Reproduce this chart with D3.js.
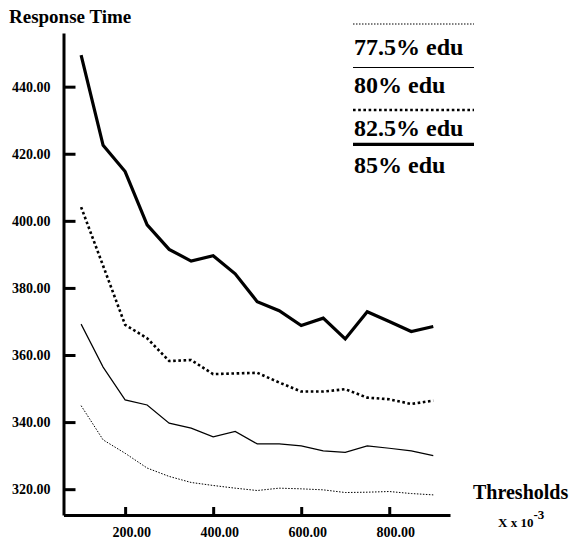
<!DOCTYPE html>
<html>
<head>
<meta charset="utf-8">
<script src="https://cdn.jsdelivr.net/npm/d3@7"></script>
<style>
  html, body { margin: 0; background: #fff; overflow: hidden; }
  svg { display: block; }
  text { font-family: "Liberation Serif", "Times New Roman", serif; font-weight: bold; fill: #000; }
</style>
</head>
<body>
<div id="chart"></div>
<script>
"use strict";

var thresholds = [100, 150, 200, 250, 300, 350, 400, 450, 500, 550, 600, 650, 700, 750, 800, 850, 900];
var edu775 = [344.9, 334.7, 330.7, 326.3, 323.8, 322.0, 321.1, 320.3, 319.6, 320.3, 320.1, 319.8, 319.0, 319.1, 319.3, 318.7, 318.3];
var edu80  = [369.2, 356.4, 346.6, 345.1, 339.7, 338.2, 335.6, 337.2, 333.5, 333.5, 332.9, 331.4, 331.0, 332.9, 332.2, 331.4, 330.0];
var edu825 = [404.1, 386.6, 369.0, 365.0, 358.2, 358.5, 354.3, 354.5, 354.7, 351.8, 349.1, 349.1, 349.8, 347.3, 346.8, 345.4, 346.4];
var edu85  = [449.4, 422.5, 414.7, 398.8, 391.5, 388.0, 389.6, 384.2, 375.9, 373.2, 368.8, 371.0, 364.8, 372.9, 370.0, 367.0, 368.5];
var seriesNames = ["77.5% edu", "80% edu", "82.5% edu", "85% edu"];
var xTicks = [200, 400, 600, 800];
var yTicks = [320, 340, 360, 380, 400, 420, 440];

var width = 569;
var height = 540;

var svg = d3.select("#chart").append("svg")
	.attr("width", width)
	.attr("height", height);

var x = d3.scaleLinear()
	.domain([60, 938])
	.range([63.5, 450]);

var y = d3.scaleLinear()
	.domain([312.3, 456])
	.range([515, 33]);

// line looks: thin dotted, thin solid, thick dotted, thick solid
var styles = [
	{width: 1, dash: "1.5,1.5"},
	{width: 1.2, dash: null},
	{width: 2.6, dash: "2.6,2.6"},
	{width: 3.2, dash: null}
];
var values = [edu775, edu80, edu825, edu85];

var line = d3.line()
	.x(function(d) { return x(d[0]); })
	.y(function(d) { return y(d[1]); });

values.forEach(function(vals, i) {
	var pts = thresholds.map(function(t, j) { return [t, vals[j]]; });
	svg.append("path")
		.datum(pts)
		.attr("fill", "none")
		.attr("stroke", "#000")
		.attr("stroke-width", styles[i].width)
		.attr("stroke-dasharray", styles[i].dash)
		.attr("d", line);
});

var yAxis = d3.axisLeft(y)
	.tickValues(yTicks)
	.tickFormat(d3.format(".2f"))
	.tickSize(-12)
	.tickSizeOuter(0)
	.tickPadding(13);

var xAxis = d3.axisBottom(x)
	.tickValues(xTicks)
	.tickFormat(d3.format(".2f"))
	.tickSize(-8)
	.tickSizeOuter(0)
	.tickPadding(12);

var gy = svg.append("g")
	.attr("transform", "translate(" + x.range()[0] + ",0)")
	.call(yAxis);

var gx = svg.append("g")
	.attr("transform", "translate(0," + y.range()[0] + ")")
	.call(xAxis);

[gx, gy].forEach(function(g) {
	g.attr("font-family", null).attr("font-size", null);
	g.selectAll("path, line").attr("stroke", "#000").attr("stroke-width", 3);
	g.selectAll("text")
		.attr("font-weight", "bold")
		.attr("font-size", 14)
		.attr("fill", "#000");
});
gx.selectAll("text").attr("dx", 6);

svg.append("text")
	.attr("x", 9)
	.attr("y", 23)
	.attr("font-size", 19)
	.text("Response Time");

svg.append("text")
	.attr("x", 473)
	.attr("y", 499)
	.attr("font-size", 20)
	.text("Thresholds");

var sub = svg.append("text")
	.attr("x", 498)
	.attr("y", 527)
	.attr("font-size", 13);
sub.append("tspan").text("X x 10");
sub.append("tspan").attr("dy", -8).text("-3");

// legend
var legLineY = [24, 67.5, 110, 144.3];
var legTextY = [55, 92.7, 136, 172.7];

var legend = svg.selectAll(".legend")
	.data(seriesNames)
	.enter()
	.append("g")
	.attr("class", "legend");

legend.append("line")
	.attr("x1", 353)
	.attr("x2", 474)
	.attr("y1", function(d, i) { return legLineY[i]; })
	.attr("y2", function(d, i) { return legLineY[i]; })
	.attr("stroke", "#000")
	.attr("stroke-width", function(d, i) { return styles[i].width; })
	.attr("stroke-dasharray", function(d, i) { return styles[i].dash; });

legend.append("text")
	.attr("x", 354)
	.attr("y", function(d, i) { return legTextY[i]; })
	.attr("font-size", 24)
	.text(function(d) { return d; });
</script>
</body>
</html>
